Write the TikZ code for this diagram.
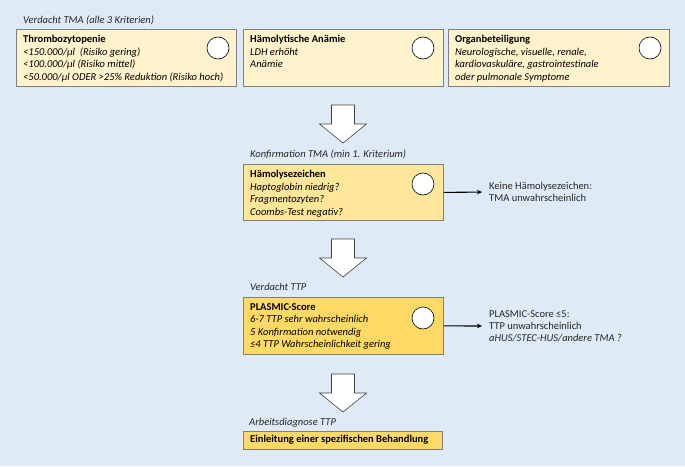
\documentclass[tikz,border=0pt]{standalone}
\usepackage{fontspec}
\setmainfont{Carlito}
\usetikzlibrary{arrows.meta}
\definecolor{bgblue}{HTML}{DEEBF7}
\definecolor{pale}{HTML}{FFF2CC}
\definecolor{mid}{HTML}{FFE699}
\definecolor{strong}{HTML}{FFD966}
\definecolor{boxborder}{HTML}{7F7F7F}
\definecolor{labgray}{HTML}{262626}
\begin{document}
\begin{tikzpicture}[x=1pt,y=-1pt,
  box/.style={draw=boxborder, line width=0.8pt, anchor=north west, inner sep=0pt},
  txt/.style={anchor=north west, inner sep=0pt, align=left, font=\fontsize{10.5}{12.5}\selectfont},
  lab/.style={anchor=base west, inner sep=0pt, font=\fontsize{10.5}{12}\selectfont\itshape, text=labgray},
  side/.style={anchor=west, inner sep=0pt, align=left, font=\fontsize{10.5}{12}\selectfont, text=labgray},
  circ/.style={circle, draw=black, fill=white, minimum size=22pt, inner sep=0pt, line width=0.6pt},
  conn/.style={-{Stealth[length=5pt,width=4.5pt]}, line width=1.1pt, shorten >=7pt},
  bigarrow/.style={draw=black!75, fill=white, line width=0.6pt, line join=miter},
  bigarr/.pic={\draw[bigarrow] (-11.5,0) -- (11.5,0) -- (11.5,19) -- (23.5,19) -- (0,38) -- (-23.5,19) -- (-11.5,19) -- cycle;}
]
\fill[bgblue] (0,0) rectangle (685,466);
\useasboundingbox (0,0) rectangle (685,466);

% Top row
\node[lab] (l1) at (23,23.5) {Verdacht TMA (alle 3 Kriterien)};
\node[box, fill=pale, minimum width=220pt, minimum height=57pt] (thr) at (16,29) {};
\node[txt] (thrT) at (23,35) {\textbf{Thrombozytopenie}\\\textit{<150.000/µl\ \ (Risiko gering)}\\\textit{<100.000/µl (Risiko mittel)}\\\textit{<50.000/µl ODER >25\% Reduktion (Risiko hoch)}};
\node[circ] (c1) at (218,48) {};

\node[box, fill=pale, minimum width=200pt, minimum height=57pt] (ha) at (243,29) {};
\node[txt] (haT) at (250,35) {\textbf{Hämolytische Anämie}\\\textit{LDH erhöht}\\\textit{Anämie}};
\node[circ] (c2) at (423,48) {};

\node[box, fill=pale, minimum width=221pt, minimum height=57pt] (ob) at (448,29) {};
\node[txt] (obT) at (455,35) {\textbf{Organbeteiligung}\\\textit{Neurologische, visuelle, renale,}\\\textit{kardiovaskuläre, gastrointestinale}\\\textit{oder pulmonale Symptome}};
\node[circ] (c3) at (650,48) {};

\pic at (343,105) {bigarr};

% Haemolyse
\node[lab] (l2) at (250,157.5) {Konfirmation TMA (min 1. Kriterium)};
\node[box, fill=mid, minimum width=200pt, minimum height=56pt] (hb) at (243,164) {};
\node[txt] (hbT) at (250,170) {\textbf{Hämolysezeichen}\\\textit{Haptoglobin niedrig?}\\\textit{Fragmentozyten?}\\\textit{Coombs-Test negativ?}};
\node[circ] (c4) at (423,184) {};
\node[side] (kh) at (489,192) {Keine Hämolysezeichen:\\TMA unwahrscheinlich};
\draw[conn] (hb.east) -- (kh.west);

\pic at (343,239) {bigarr};

% PLASMIC
\node[lab] (l3) at (250,290.5) {Verdacht TTP};
\node[box, fill=strong, minimum width=200pt, minimum height=57pt] (ps) at (243,297) {};
\node[txt] (psT) at (250,303) {\textbf{PLASMIC-Score}\\\textit{6-7 TTP sehr wahrscheinlich}\\\textit{5 Konfirmation notwendig}\\\textit{≤4 TTP Wahrscheinlichkeit gering}};
\node[circ] (c5) at (423,318) {};
\node[side] (pu) at (489,326) {PLASMIC-Score ≤5:\\TTP unwahrscheinlich\\\textit{aHUS/STEC-HUS/andere TMA ?}};
\draw[conn] (ps.east) -- (pu.west);

\pic at (343,374) {bigarr};

% Final
\node[lab] (l4) at (249,425.5) {Arbeitsdiagnose TTP};
\node[box, fill=strong, minimum width=199pt, minimum height=18pt] (eb) at (243,431) {};
\node[anchor=west, inner sep=0pt, font=\fontsize{10.5}{12}\selectfont\bfseries] (ebT) at (250,440) {Einleitung einer spezifischen Behandlung};
\end{tikzpicture}
\end{document}
